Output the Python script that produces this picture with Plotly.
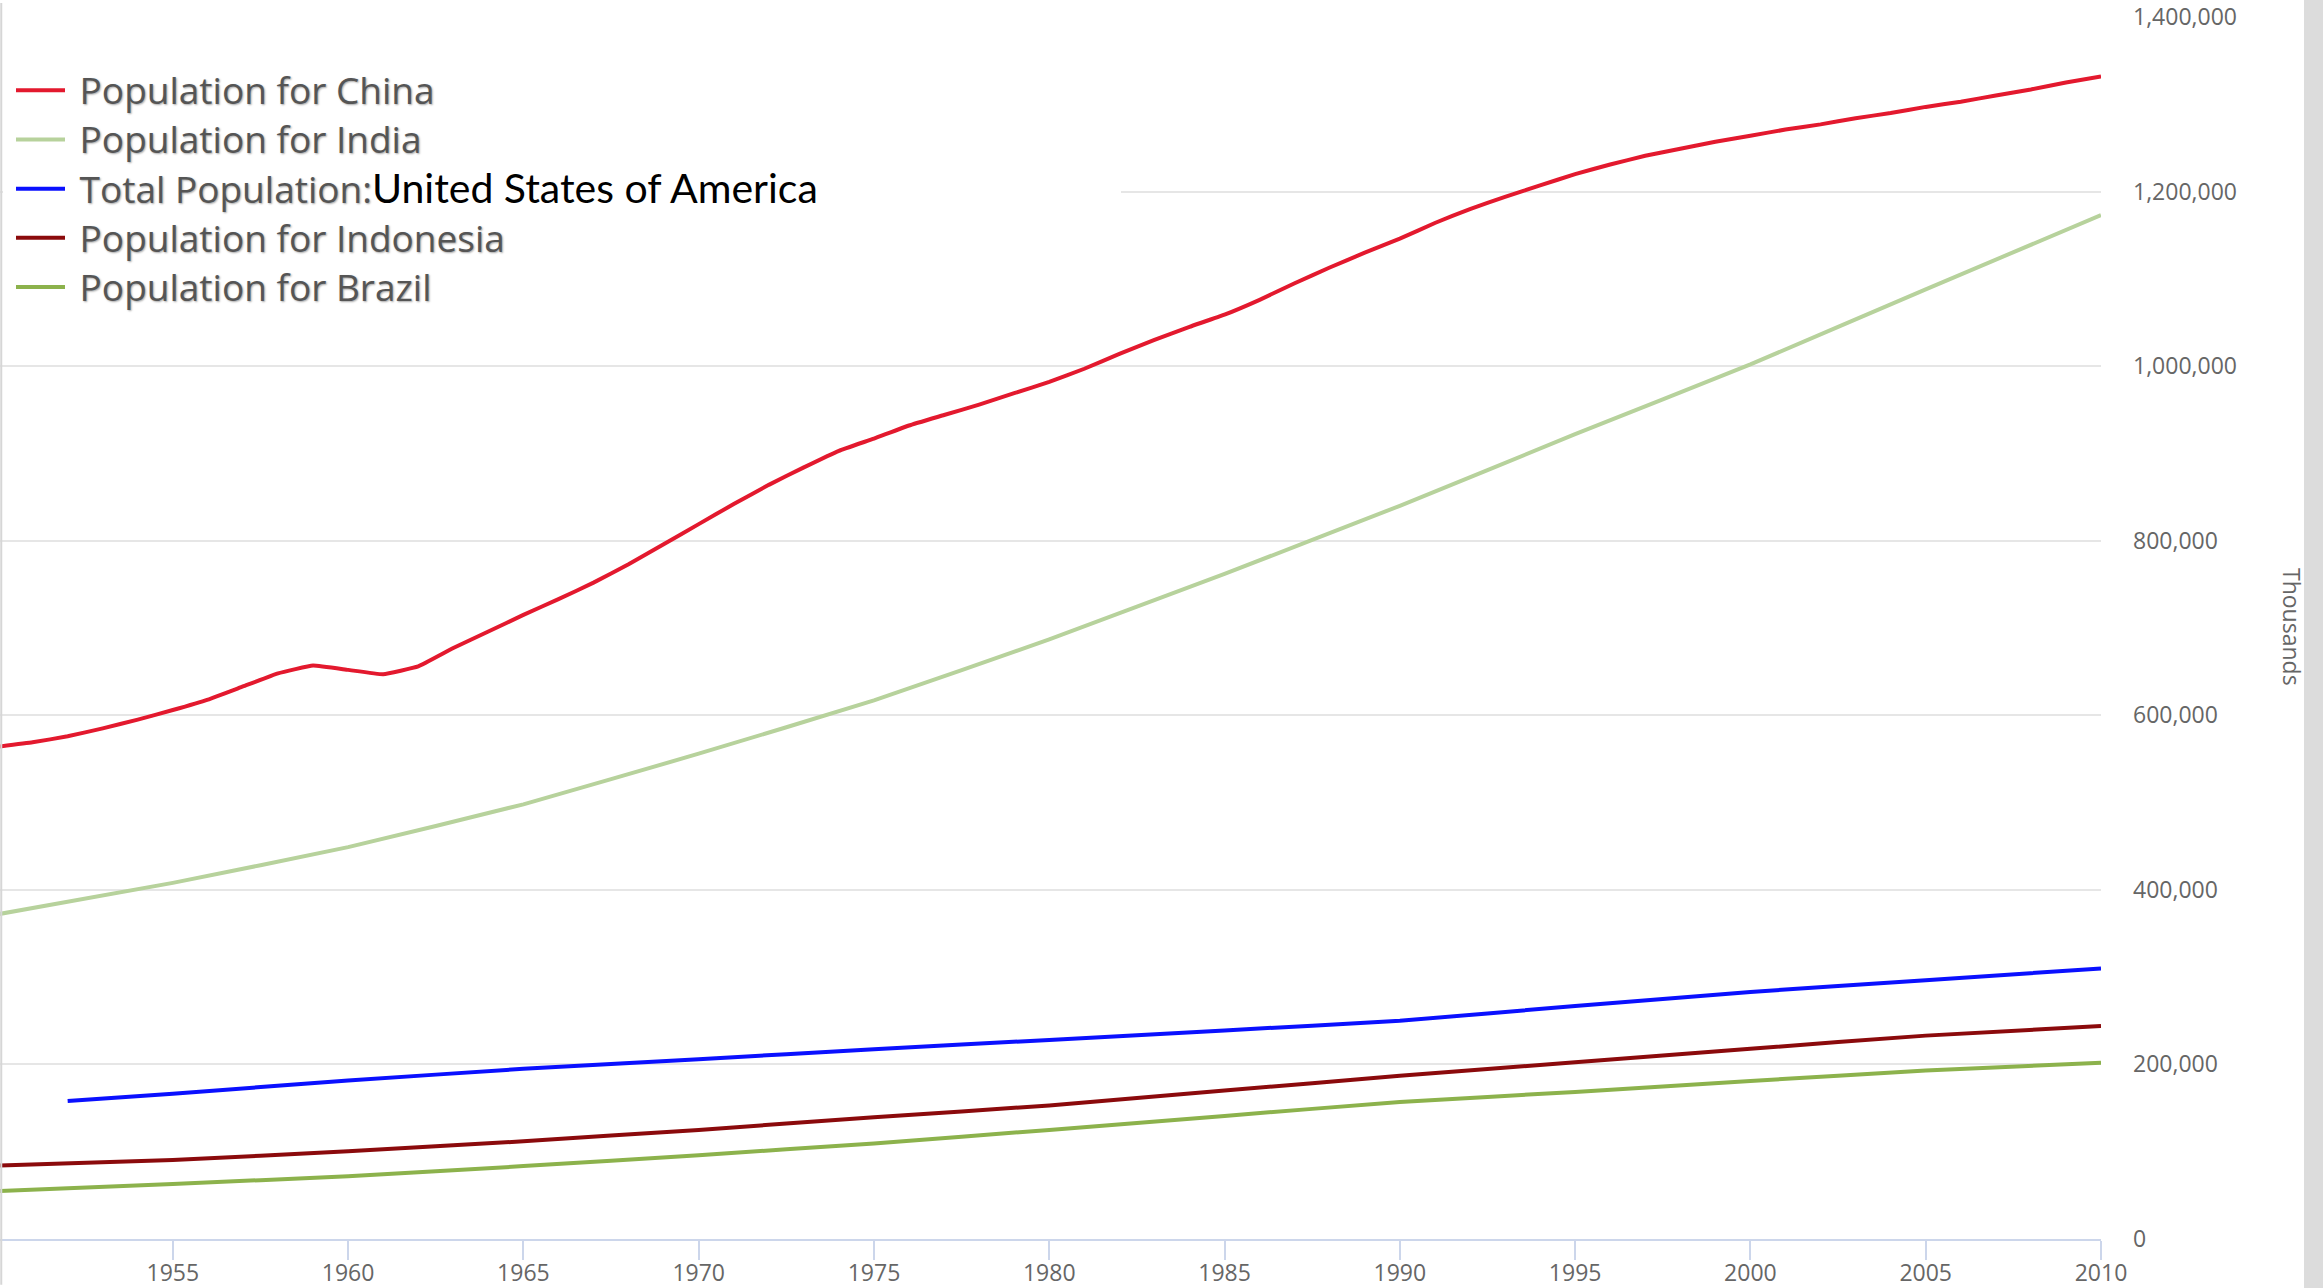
import plotly.graph_objects as go

# ---------------- data (thousands) ----------------
years_china = list(range(1950, 2011))
china = [564000, 569000, 576000, 585000, 595000, 606000, 618000, 633000, 648000, 657000,
         652000, 647000, 656000, 677000, 696000, 715000, 733000, 752000, 773000, 796000,
         819000, 842000, 864000, 884000, 903000, 917000, 932000, 944000, 956000, 969000,
         982000, 997000, 1014000, 1030000, 1045000, 1059000, 1076000, 1095000, 1113000, 1130000,
         1146000, 1164000, 1180000, 1194000, 1207000, 1220000, 1231000, 1241000, 1249000, 1257000,
         1264000, 1271000, 1277000, 1284000, 1290000, 1297000, 1303000, 1310000, 1317000, 1325000,
         1332000]

years_5 = [1950, 1955, 1960, 1965, 1970, 1975, 1980, 1985, 1990, 1995, 2000, 2005, 2010]
india = [372000, 408000, 449000, 498000, 556000, 617000, 687000, 762000, 840000, 922000,
         1002000, 1088000, 1173000]
indonesia = [84000, 90500, 100500, 112000, 125000, 139500, 153000, 170000, 187000, 202500,
             218000, 233000, 244000]
brazil = [55000, 63000, 72000, 83500, 96000, 109500, 125000, 141000, 157000, 168500,
          181000, 193000, 202000]

years_usa = [1952, 1955, 1960, 1965, 1970, 1975, 1980, 1985, 1990, 1995, 2000, 2005, 2010]
usa = [158000, 166500, 181500, 195000, 206000, 217500, 228000, 239000, 250000, 267000,
       283000, 296500, 310000]

x_ticks = [1955, 1960, 1965, 1970, 1975, 1980, 1985, 1990, 1995, 2000, 2005, 2010]
y_ticks = [0, 200000, 400000, 600000, 800000, 1000000, 1200000, 1400000]

NB = "\u00a0"
GRAY = "<span style=\"font-size:37px\">{}</span>"
BLACK = ("<span style=\"font-family:Lato;font-size:41px;color:#000000;"
         "text-shadow:none\">{}</span>")
names = [
    GRAY.format(NB + "Population for China"),
    GRAY.format(NB + "Population for India"),
    GRAY.format(NB + "Total Population:") + BLACK.format("United States of America"),
    GRAY.format(NB + "Population for Indonesia"),
    GRAY.format(NB + "Population for Brazil"),
]
colors = ["#e3192e", "#b7d29c", "#0a10ff", "#8b0a0c", "#8cb24c"]

series = [
    (years_china, china),
    (years_5, india),
    (years_usa, usa),
    (years_5, indonesia),
    (years_5, brazil),
]

fig = go.Figure()
for (xs, ys), nm, col in zip(series, names, colors):
    fig.add_trace(go.Scatter(x=xs, y=ys, mode="lines", name=nm,
                             line=dict(color=col, width=4, shape="spline", smoothing=0.3)))

W, H = 2323, 1288
ml, mr, mt, mb = 0, 222, 13, 46
pw = W - ml - mr
ph = H - mt - mb
# 1,400,000 sits 1228 px above the x axis; keep a sliver of room above it
y_top = 1400000 * ph / 1228
x_range = [1950.07, 2010]
y_range = [0, y_top]

def x_at(px):
    return x_range[0] + (x_range[1] - x_range[0]) * px / pw

def y_at(py):
    return y_range[0] + (y_range[1] - y_range[0]) * (H - mb - py) / ph

fig.update_layout(
    width=W, height=H,
    margin=dict(l=ml, r=mr, t=mt, b=mb, pad=0),
    paper_bgcolor="white", plot_bgcolor="white",
    font=dict(family="Open Sans", color="#666666", size=23),
    showlegend=True,
    legend=dict(
        x=11 / pw, y=1 - (58 - mt) / ph, xanchor="left", yanchor="top",
        bgcolor="rgba(0,0,0,0)", borderwidth=0,
        itemwidth=49,
        font=dict(family="Open Sans", size=35.5, color="#555555",
                  shadow="1px 1px 2px rgba(0,0,0,0.35)"),
        tracegroupgap=0,
    ),
    xaxis=dict(
        range=x_range, tickvals=x_ticks, ticktext=[str(v) for v in x_ticks],
        showgrid=False, zeroline=False,
        showline=True, linecolor="#ccd6eb", linewidth=2,
        ticks="outside", ticklen=19, tickwidth=2, tickcolor="#ccd6eb",
        ticklabelstandoff=-7,
        tickfont=dict(family="Open Sans", size=23, color="#666666"),
        fixedrange=True,
    ),
    yaxis=dict(
        range=y_range, tickvals=y_ticks, tickformat=",d", side="right",
        showgrid=True, gridcolor="#e6e6e6", gridwidth=2,
        zeroline=False, showline=False, ticks="",
        ticklabelstandoff=31, ticklabeloverflow="allow",
        tickfont=dict(family="Open Sans", size=23, color="#666666"),
        fixedrange=True,
    ),
    annotations=[dict(
        text="Thousands", xref="paper", yref="paper",
        x=(2292 - ml) / pw, y=(H - mb - 627) / ph, xanchor="center", yanchor="middle",
        textangle=90, showarrow=False,
        font=dict(family="Open Sans", size=23, color="#666666"),
    )],
    shapes=[
        # legend backdrop hiding gridlines behind the legend
        dict(type="rect", xref="x", yref="y",
             x0=x_at(3), x1=x_at(1121), y0=y_at(350), y1=y_at(25),
             fillcolor="white", line=dict(width=0), layer="between"),
        # left frame line
        dict(type="line", xref="paper", yref="paper",
             x0=0.0006, x1=0.0006, y0=-mb / ph, y1=1 + mt / ph,
             line=dict(color="#d6d6d6", width=2)),
        # right grey strip
        dict(type="rect", xref="paper", yref="paper",
             x0=(2304 - ml) / pw, x1=(W + 5 - ml) / pw, y0=-0.06, y1=1.06,
             fillcolor="#dcdcdc", line=dict(width=0)),
    ],
)

fig.write_html(
    "out.html",
    config={"displayModeBar": False},
    post_script="document.body.style.margin='0px';document.body.style.overflow='hidden';",
)
